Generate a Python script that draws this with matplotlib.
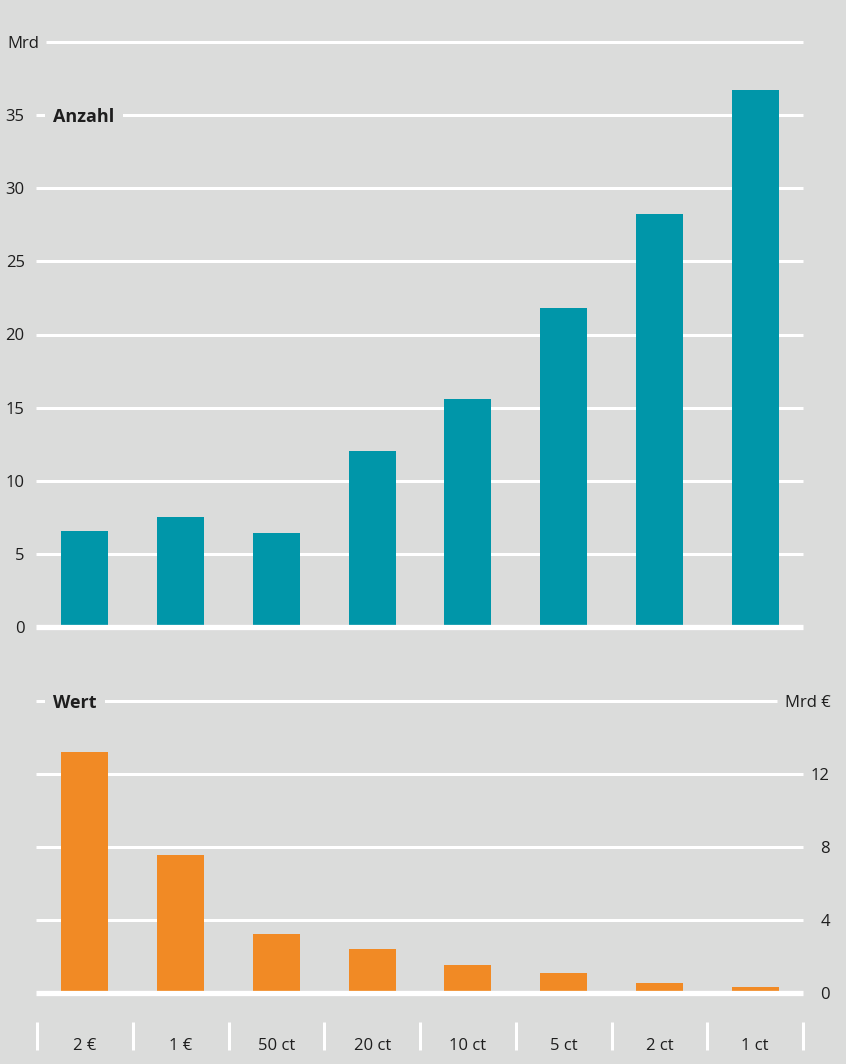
import matplotlib
matplotlib.use("Agg")
from matplotlib import pyplot as plt

# Euro-Münzen: Anzahl (Mrd) und Wert (Mrd €)
coins = ["2 €", "1 €", "50 ct", "20 ct", "10 ct", "5 ct", "2 ct", "1 ct"]
anzahl = [6.55, 7.5, 6.45, 12.05, 15.6, 21.8, 28.25, 36.7]
wert = [13.2, 7.56, 3.23, 2.41, 1.53, 1.10, 0.55, 0.33]

anzahl_ticks = [0, 5, 10, 15, 20, 25, 30, 35]
wert_ticks = [0, 4, 8, 12]

bg = "#dbdcdb"
teal = "#0096a9"
orange = "#f18a25"
txt = "#1e1e1e"
fs = 12

plt.rcParams["font.family"] = ["Open Sans", "DejaVu Sans"]

W, H = 846, 1064
fig = plt.figure(figsize=(W / 100, H / 100), dpi=100, facecolor=bg)

left = 37 / W
width = 766 / W
ax1 = fig.add_axes([left, 1 - 627 / H, width, (627 - 42) / H])
ax2 = fig.add_axes([left, 1 - 993 / H, width, (993 - 701) / H])

x = list(range(len(coins)))

for ax in (ax1, ax2):
    ax.set_facecolor(bg)
    ax.set_xlim(-0.5, 7.5)
    for s in ax.spines.values():
        s.set_visible(False)
    ax.set_xticks([])
    ax.set_yticks([])

# oberes Diagramm: Anzahl
ax1.set_ylim(0, 40)
ytr = ax1.get_yaxis_transform()
for t in anzahl_ticks:
    lw = 3.8 if t == 0 else 2.2
    ax1.hlines(t, -0.51, 7.5, color="white", lw=lw, zorder=3 if t == 0 else 1,
               clip_on=False)
    ax1.text(-0.016, t, str(t), transform=ytr, ha="right",
             va="center_baseline", fontsize=fs, color=txt)
ax1.hlines(40, -0.41, 7.5, color="white", lw=2.2, zorder=1, clip_on=False)
ax1.text(-0.039, 40, "Mrd", transform=ytr, ha="left",
         va="center_baseline", fontsize=fs, color=txt)
ax1.bar(x, anzahl, width=0.49, color=teal, zorder=2)
ax1.text(-0.33, 35, "Anzahl", ha="left", va="center_baseline", fontsize=13,
         fontweight="bold", color=txt, zorder=4,
         bbox=dict(boxstyle="square,pad=0.45", fc=bg, ec="none"))

# unteres Diagramm: Wert
ax2.set_ylim(0, 16)
ytr = ax2.get_yaxis_transform()
for t in wert_ticks:
    lw = 3.8 if t == 0 else 2.2
    ax2.hlines(t, -0.51, 7.5, color="white", lw=lw, zorder=3 if t == 0 else 1,
               clip_on=False)
    ax2.text(1.035, t, str(t), transform=ytr, ha="right",
             va="center_baseline", fontsize=fs, color=txt)
ax2.hlines(16, -0.51, 7.23, color="white", lw=2.2, zorder=1, clip_on=False)
ax2.text(1.036, 16, "Mrd €", transform=ytr, ha="right",
         va="center_baseline", fontsize=fs, color=txt)
ax2.bar(x, wert, width=0.49, color=orange, zorder=2)
ax2.text(-0.33, 16, "Wert", ha="left", va="center_baseline", fontsize=13,
         fontweight="bold", color=txt, zorder=4,
         bbox=dict(boxstyle="square,pad=0.45", fc=bg, ec="none"))

# Kategorien unter dem unteren Diagramm
seps = [i - 0.5 for i in range(len(coins) + 1)]
ax2.vlines(seps, -3.12, -1.59, color="white", lw=2.2, clip_on=False)
for xi, c in zip(x, coins):
    ax2.text(xi, -2.8, c, ha="center", va="center_baseline", fontsize=fs,
             color=txt)

fig.savefig("out.png", dpi=100, facecolor=bg)
